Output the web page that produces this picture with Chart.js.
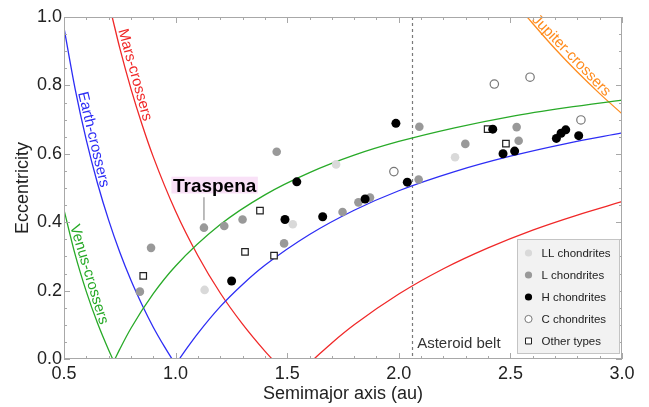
<!DOCTYPE html>
<html lang="en">
<head>
  <meta charset="UTF-8" />
  <title>Orbits of meteorites</title>
  <script src="https://cdn.jsdelivr.net/npm/chart.js"></script>
  <style>
    html, body { margin: 0; padding: 0; background: #fff; }
    #grafico { display: block; }
  </style>
</head>
<body>
  <canvas id="grafico" width="649" height="407"></canvas>
  <script>
    // tick labels
    const xTicks = [0.5, 1.0, 1.5, 2.0, 2.5, 3.0];
    const yTicks = [0.0, 0.2, 0.4, 0.6, 0.8, 1.0];

    // meteorites: [semimajor axis (au), eccentricity]
    const llChondrites = [[1.130, 0.202], [1.525, 0.394], [1.719, 0.569], [2.252, 0.590]];
    const lChondrites = [
      [0.840, 0.197], [0.890, 0.325], [1.127, 0.384], [1.218, 0.389], [1.300, 0.408],
      [1.453, 0.606], [1.486, 0.338], [1.748, 0.430], [1.819, 0.458], [1.871, 0.472],
      [2.092, 0.679], [2.089, 0.525], [2.298, 0.629], [2.528, 0.678], [2.537, 0.638]
    ];
    const hChondrites = [
      [1.251, 0.228], [1.490, 0.408], [1.543, 0.518], [1.659, 0.416], [1.849, 0.468],
      [1.987, 0.689], [2.038, 0.517], [2.421, 0.672], [2.467, 0.600], [2.519, 0.608],
      [2.706, 0.645], [2.727, 0.660], [2.748, 0.670], [2.806, 0.653]
    ];
    const cChondrites = [[1.978, 0.548], [2.428, 0.804], [2.588, 0.824], [2.816, 0.699]];
    const otherTypes = [[0.855, 0.243], [1.311, 0.313], [1.378, 0.434], [1.441, 0.302], [2.398, 0.672], [2.480, 0.630]];

    const traspena = [1.127, 0.384];
    const asteroidBelt = 2.06;

    // crossing boundaries, points
    const venusInner = [[0.5, 0.436], [0.55, 0.305], [0.6, 0.197], [0.65, 0.105], [0.7, 0.026], [0.718, 0]];
    const venusOuter = [[0.728, 0], [0.75, 0.029], [0.8, 0.09], [0.9, 0.191], [1.0, 0.272], [1.2, 0.393], [1.4, 0.48],
      [1.6, 0.545], [1.8, 0.596], [2.0, 0.636], [2.25, 0.676], [2.5, 0.709], [2.75, 0.735], [3.0, 0.757]];
    const earthInner = [[0.5, 0.968], [0.55, 0.789], [0.6, 0.64], [0.65, 0.514], [0.7, 0.406], [0.75, 0.312],
      [0.8, 0.23], [0.85, 0.158], [0.9, 0.093], [0.95, 0.036], [0.984, 0]];
    const earthOuter = [[1.017, 0], [1.05, 0.031], [1.1, 0.075], [1.2, 0.153], [1.3, 0.218], [1.4, 0.274], [1.6, 0.364],
      [1.8, 0.435], [2.0, 0.492], [2.25, 0.548], [2.5, 0.593], [2.75, 0.63], [3.0, 0.661]];
    const marsInner = [[0.716, 1.0], [0.75, 0.909], [0.8, 0.79], [0.85, 0.685], [0.9, 0.591], [1.0, 0.432],
      [1.1, 0.302], [1.2, 0.193], [1.3, 0.102], [1.4, 0.023], [1.432, 0]];
    const marsOuter = [[1.62, 0], [1.7, 0.047], [1.8, 0.1], [2.0, 0.19], [2.2, 0.264], [2.4, 0.325], [2.6, 0.377],
      [2.8, 0.421], [3.0, 0.46]];
    const jupiterInner = [[2.575, 1.0], [2.6, 0.981], [2.7, 0.907], [2.8, 0.839], [2.9, 0.776], [3.0, 0.717]];

    const FONT = '"Liberation Sans", Arial, Helvetica, sans-serif';
    const RED = 'rgb(240,40,40)', BLUE = 'rgb(45,45,245)', GREEN = 'rgb(40,170,40)', ORANGE = 'rgb(255,140,30)';

    const pts = arr => arr.map(([a, e]) => ({ x: a, y: e }));

    function curva(arr, cor) {
      return {
        label: '', data: pts(arr), showLine: true, borderColor: cor, borderWidth: 1.3,
        pointRadius: 0, cubicInterpolationMode: 'monotone', fill: false, order: 10, curve: true
      };
    }

    const series = [
      { label: 'LL chondrites', data: pts(llChondrites), backgroundColor: '#d9d9d9', borderColor: '#d9d9d9', borderWidth: 0, pointRadius: 4.3, pointStyle: 'circle', order: 4 },
      { label: 'L chondrites', data: pts(lChondrites), backgroundColor: '#999999', borderColor: '#999999', borderWidth: 0, pointRadius: 4.3, pointStyle: 'circle', order: 3 },
      { label: 'H chondrites', data: pts(hChondrites), backgroundColor: '#000', borderColor: '#000', borderWidth: 0, pointRadius: 4.5, pointStyle: 'circle', order: 1 },
      { label: 'C chondrites', data: pts(cChondrites), backgroundColor: '#fff', borderColor: '#777', borderWidth: 1.2, pointRadius: 4.2, pointStyle: 'circle', order: 2 },
      { label: 'Other types', data: pts(otherTypes), backgroundColor: '#fff', borderColor: '#222', borderWidth: 1.2, pointRadius: 4.6, pointStyle: 'rect', order: 2 }
    ];

    const curveLabels = [
      { text: 'Mars-crossers', color: RED, from: marsInner[1], to: marsInner[2], at: [0.785, 0.825], off: 7.5 },
      { text: 'Earth-crossers', color: BLUE, from: earthInner[1], to: earthInner[3], at: [0.601, 0.637], off: 7 },
      { text: 'Venus-crossers', color: GREEN, from: venusInner[1], to: venusInner[2], at: [0.579, 0.241], off: 7.5 },
      { text: 'Jupiter-crossers', color: ORANGE, from: jupiterInner[2], to: jupiterInner[3], at: [2.75, 0.873], off: 7 }
    ];

    const molduraPlugin = {
      id: 'moldura',
      afterDraw(chart) {
        const { ctx, chartArea: ca, scales: { x, y } } = chart;
        ctx.save();
        ctx.strokeStyle = '#a8a8a8';
        ctx.lineWidth = 1;
        ctx.strokeRect(ca.left + 0.5, ca.top + 0.5, ca.right - ca.left - 1, ca.bottom - ca.top - 1);
        ctx.beginPath();
        for (let i = 0; i <= 25; i++) {
          const v = 0.5 + i * 0.1;
          const px = Math.round(x.getPixelForValue(v)) + 0.5;
          const len = i % 5 === 0 ? 6 : 3;
          ctx.moveTo(px, ca.bottom); ctx.lineTo(px, ca.bottom - len);
          ctx.moveTo(px, ca.top); ctx.lineTo(px, ca.top + len);
        }
        for (let i = 0; i <= 20; i++) {
          const v = i * 0.05;
          const py = Math.round(y.getPixelForValue(v)) + 0.5;
          const len = i % 4 === 0 ? 6 : 3;
          ctx.moveTo(ca.left, py); ctx.lineTo(ca.left + len, py);
          ctx.moveTo(ca.right, py); ctx.lineTo(ca.right - len, py);
        }
        ctx.stroke();
        ctx.restore();
      }
    };

    const anotacoesPlugin = {
      id: 'anotacoes',
      beforeDatasetsDraw(chart) {
        const { ctx, chartArea: ca, scales: { x } } = chart;
        const bx = Math.round(x.getPixelForValue(asteroidBelt)) + 0.5;
        ctx.save();
        ctx.strokeStyle = '#7a7a7a';
        ctx.lineWidth = 1.2;
        ctx.setLineDash([3, 3]);
        ctx.beginPath();
        ctx.moveTo(bx, ca.top); ctx.lineTo(bx, ca.bottom);
        ctx.stroke();
        ctx.restore();
      },
      afterDatasetsDraw(chart) {
        const { ctx, chartArea: ca, scales: { x, y } } = chart;
        ctx.save();

        // curve labels along the lines
        ctx.font = '15px ' + FONT;
        ctx.textAlign = 'center';
        ctx.textBaseline = 'middle';
        curveLabels.forEach(l => {
          const x1 = x.getPixelForValue(l.from[0]), y1 = y.getPixelForValue(l.from[1]);
          const x2 = x.getPixelForValue(l.to[0]), y2 = y.getPixelForValue(l.to[1]);
          const ang = Math.atan2(y2 - y1, x2 - x1);
          const cx = x.getPixelForValue(l.at[0]) + Math.sin(ang) * l.off;
          const cy = y.getPixelForValue(l.at[1]) - Math.cos(ang) * l.off;
          ctx.save();
          ctx.translate(cx, cy);
          ctx.rotate(ang);
          ctx.fillStyle = l.color;
          ctx.fillText(l.text, 0, 0);
          ctx.restore();
        });

        // asteroid belt
        ctx.fillStyle = '#333';
        ctx.font = '15px ' + FONT;
        ctx.textAlign = 'left';
        ctx.textBaseline = 'alphabetic';
        ctx.fillText('Asteroid belt', x.getPixelForValue(asteroidBelt) + 5, ca.bottom - 11);

        // Traspena
        const px = x.getPixelForValue(traspena[0]);
        const py = y.getPixelForValue(traspena[1]);
        ctx.font = 'bold 19px ' + FONT;
        const w = ctx.measureText('Traspena').width;
        const cx = px + 10.7;
        ctx.fillStyle = '#f9e1f7';
        ctx.fillRect(cx - w / 2 - 1.5, py - 51, w + 3, 16.8);
        ctx.fillStyle = '#000';
        ctx.textAlign = 'center';
        ctx.fillText('Traspena', cx, py - 35.6);
        ctx.strokeStyle = '#a6a6a6';
        ctx.lineWidth = 1.5;
        ctx.beginPath();
        ctx.moveTo(px, py - 30.5);
        ctx.lineTo(px, py - 7.5);
        ctx.stroke();
        ctx.restore();
      },
      afterDraw(chart) {
        const { ctx, chartArea: ca } = chart;
        const bw = 103, bh = 115;
        const bx = ca.right - 2 - bw, by = ca.bottom - 5 - bh;
        ctx.save();
        ctx.fillStyle = '#f2f2f2';
        ctx.fillRect(bx, by, bw, bh);
        ctx.strokeStyle = '#c4c4c4';
        ctx.lineWidth = 1;
        ctx.strokeRect(bx + 0.5, by + 0.5, bw - 1, bh - 1);
        ctx.font = '11.5px ' + FONT;
        ctx.textAlign = 'left';
        ctx.textBaseline = 'middle';
        series.forEach((s, i) => {
          const ly = by + 14 + i * 22;
          const mx = bx + 11.5;
          ctx.beginPath();
          if (s.pointStyle === 'rect') {
            ctx.rect(mx - 3, ly - 3, 6, 6);
          } else {
            ctx.arc(mx, ly, 3.6, 0, Math.PI * 2);
          }
          ctx.fillStyle = s.backgroundColor;
          ctx.fill();
          if (s.borderWidth) {
            ctx.strokeStyle = s.borderColor;
            ctx.lineWidth = 1;
            ctx.stroke();
          }
          ctx.fillStyle = '#222';
          ctx.fillText(s.label, bx + 24.5, ly + 0.5);
        });
        ctx.restore();
      }
    };

    new Chart(document.getElementById('grafico'), {
      type: 'scatter',
      data: {
        datasets: [
          ...series,
          curva(venusInner, GREEN), curva(venusOuter, GREEN),
          curva(earthInner, BLUE), curva(earthOuter, BLUE),
          curva(marsInner, RED), curva(marsOuter, RED),
          curva(jupiterInner, ORANGE)
        ]
      },
      options: {
        responsive: false,
        animation: false,
        devicePixelRatio: 1,
        events: [],
        layout: { padding: { top: 17, right: 27, left: 0, bottom: 0 } },
        plugins: { legend: { display: false }, tooltip: { enabled: false } },
        scales: {
          x: {
            type: 'linear', min: 0.5, max: 3.0,
            afterBuildTicks: s => { s.ticks = xTicks.map(v => ({ value: v })); },
            afterFit: s => { s.height = 48; },
            grid: { display: false, drawTicks: false },
            border: { display: false },
            ticks: { padding: 4, color: '#222', font: { family: FONT, size: 18 }, callback: v => v.toFixed(1), maxRotation: 0, autoSkip: false },
            title: { display: true, text: 'Semimajor axis (au)', color: '#222', font: { family: FONT, size: 18 }, padding: { top: 0, bottom: 2 } }
          },
          y: {
            type: 'linear', min: 0, max: 1.0,
            afterBuildTicks: s => { s.ticks = yTicks.map(v => ({ value: v })); },
            afterFit: s => { s.width = 64; },
            grid: { display: false, drawTicks: false },
            border: { display: false },
            ticks: { padding: 2, color: '#222', font: { family: FONT, size: 18 }, callback: v => v.toFixed(1), autoSkip: false },
            title: { display: true, text: 'Eccentricity', color: '#222', font: { family: FONT, size: 18 }, padding: { top: 12, bottom: 0 } }
          }
        }
      },
      plugins: [molduraPlugin, anotacoesPlugin]
    });
  </script>
</body>
</html>
